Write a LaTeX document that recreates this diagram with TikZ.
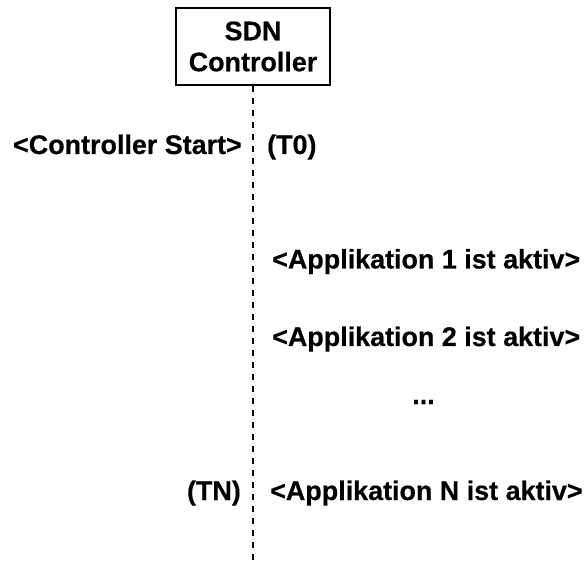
\documentclass[tikz,border=0pt]{standalone}
\usepackage{fontspec}
\setmainfont{Liberation Sans}[BoldFeatures={FakeBold=0.4}]
\begin{document}
\begin{tikzpicture}[x=1pt,y=-1pt,
  lbl/.style={font=\fontsize{26.9}{31}\selectfont\bfseries, inner sep=0pt},
  ctrlbox/.style={draw, line width=1.5pt, minimum width=154pt, minimum height=77pt, align=center, font=\fontsize{26.9}{31}\selectfont\bfseries, inner sep=0pt},
  lifeline/.style={line width=1.8pt, dash pattern=on 6pt off 6pt}]
\useasboundingbox (0,0) rectangle (584,561);
\node[ctrlbox] (ctrl) at (253,46.5) {SDN\\Controller};
\coordinate (end) at (253,561);
\draw[lifeline] (ctrl.south) -- (end);
\node[lbl, anchor=base east] (start) at (242,154) {<Controller Start>};
\node[lbl, anchor=base west] (t0) at (267,154) {(T0)};
\node[lbl, anchor=base west] (app1) at (272,268.5) {<Applikation 1 ist aktiv>};
\node[lbl, anchor=base west] (app2) at (272,346) {<Applikation 2 ist aktiv>};
\node[lbl, anchor=base] (dots) at (423.5,404) {...};
\node[lbl, anchor=base east] (tn) at (241,500) {(TN)};
\node[lbl, anchor=base west] (appn) at (270,500) {<Applikation N ist aktiv>};
\end{tikzpicture}
\end{document}
